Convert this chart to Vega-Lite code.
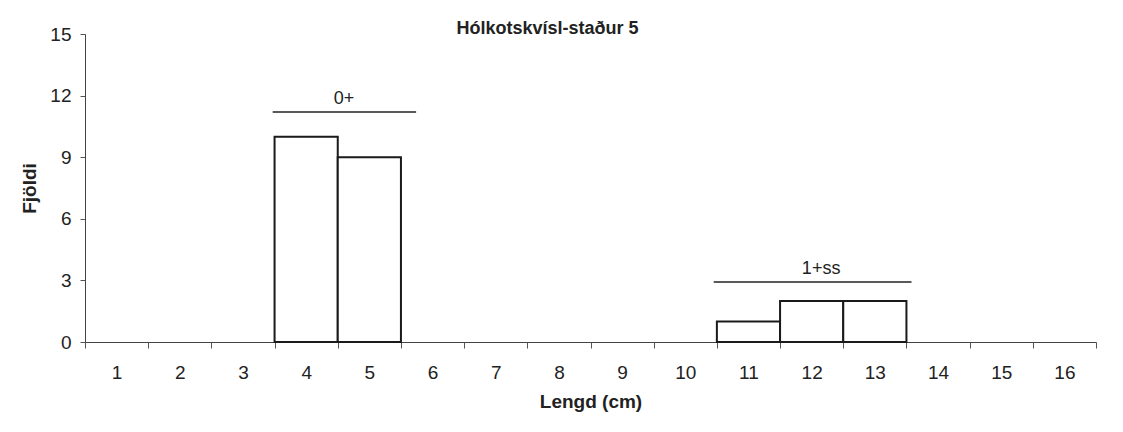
{
  "$schema": "https://vega.github.io/schema/vega-lite/v6.json",
  "width": 1011,
  "height": 308,
  "autosize": {"type": "none"},
  "padding": {"left": 85, "top": 34, "right": 27, "bottom": 90},
  "background": "white",
  "title": {
    "text": "Hólkotskvísl-staður 5",
    "frame": "group",
    "anchor": "middle",
    "offset": -13,
    "dx": -43,
    "font": "Liberation Sans",
    "fontSize": 18,
    "fontWeight": "bold",
    "color": "#222"
  },
  "config": {
    "view": {"stroke": null},
    "font": "Liberation Sans"
  },
  "datasets": {
    "lengdir": [
      {"fra": 3.5, "til": 4.5, "fjoldi": 10},
      {"fra": 4.5, "til": 5.5, "fjoldi": 9},
      {"fra": 10.5, "til": 11.5, "fjoldi": 1},
      {"fra": 11.5, "til": 12.5, "fjoldi": 2},
      {"fra": 12.5, "til": 13.5, "fjoldi": 2}
    ],
    "hopar": [
      {"hopur": "0+", "fra": 3.47, "til": 5.74, "midja": 4.6, "haed": 11.2},
      {"hopur": "1+ss", "fra": 10.45, "til": 13.58, "midja": 12.15, "haed": 2.92}
    ]
  },
  "layer": [
    {
      "data": {"name": "lengdir"},
      "mark": {"type": "bar", "fill": "white", "stroke": "#1a1a1a", "strokeWidth": 2},
      "encoding": {
        "x": {
          "field": "fra",
          "type": "quantitative",
          "scale": {"domain": [0.5, 16.5], "nice": false, "zero": false},
          "axis": {
            "title": "Lengd (cm)",
            "values": [0.5, 1.5, 2.5, 3.5, 4.5, 5.5, 6.5, 7.5, 8.5, 9.5, 10.5, 11.5, 12.5, 13.5, 14.5, 15.5, 16.5],
            "labelExpr": "datum.value < 16 ? format(datum.value + 0.5, 'd') : ''",
            "labelOffset": 31.6,
            "labelFlush": false,
            "labelOverlap": false,
            "labelFontSize": 19,
            "labelColor": "#222",
            "labelPadding": 15,
            "tickSize": 6,
            "tickColor": "#555",
            "domainColor": "#444",
            "grid": false,
            "titleFontSize": 19,
            "titleFontWeight": "bold",
            "titleColor": "#222",
            "titlePadding": 10
          }
        },
        "x2": {"field": "til"},
        "y": {
          "field": "fjoldi",
          "type": "quantitative",
          "scale": {"domain": [0, 15], "nice": false},
          "axis": {
            "title": "Fjöldi",
            "values": [0, 3, 6, 9, 12, 15],
            "labelFontSize": 19,
            "labelColor": "#222",
            "labelPadding": 9,
            "tickSize": 5,
            "tickColor": "#555",
            "domainColor": "#444",
            "grid": false,
            "titleFontSize": 19,
            "titleFontWeight": "bold",
            "titleColor": "#222",
            "titlePadding": 10
          }
        },
        "y2": {"datum": 0}
      }
    },
    {
      "data": {"name": "hopar"},
      "mark": {"type": "rule", "stroke": "#222", "strokeWidth": 1.5},
      "encoding": {
        "x": {"field": "fra", "type": "quantitative", "title": "Lengd (cm)"},
        "x2": {"field": "til"},
        "y": {"field": "haed", "type": "quantitative", "title": "Fjöldi"}
      }
    },
    {
      "data": {"name": "hopar"},
      "mark": {"type": "text", "fontSize": 18, "color": "#222", "baseline": "bottom", "dy": -4},
      "encoding": {
        "x": {"field": "midja", "type": "quantitative", "title": "Lengd (cm)"},
        "y": {"field": "haed", "type": "quantitative", "title": "Fjöldi"},
        "text": {"field": "hopur"}
      }
    }
  ]
}
